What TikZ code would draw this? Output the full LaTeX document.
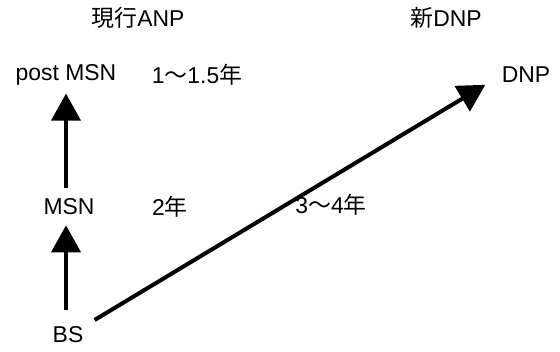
\documentclass[tikz,border=0pt]{standalone}
\usepackage{fontspec}
\setmainfont{Liberation Sans}
\newfontfamily\cjk{Noto Sans CJK JP}
\usetikzlibrary{arrows.meta}
\tikzset{
  lbl/.style={inner sep=0pt, font=\fontsize{23}{26}\selectfont},
  arr/.style={line width=4bp, -{Triangle[length=27bp,width=29bp]}}
}
\begin{document}
\begin{tikzpicture}[x=1bp,y=-1bp]
\useasboundingbox (0,0) rectangle (560,351);
\node[lbl] (anp) at (138,18) {{\cjk 現行}ANP};
\node[lbl] (newdnp) at (446,18) {{\cjk 新}DNP};
\node[lbl] (post) at (66,75) {post MSN};
\node[lbl] (y15) at (197,75) {1{\cjk 〜}1.5{\cjk 年}};
\node[lbl] (dnp) at (526,75) {DNP};
\node[lbl] (msn) at (69,207) {MSN};
\node[lbl] (y2) at (170,207) {2{\cjk 年}};
\node[lbl] (y34) at (331,205) {3{\cjk 〜}4{\cjk 年}};
\node[lbl] (bs) at (68,335) {BS};
\draw[arr, shorten <=17bp, shorten >=10bp] (bs.north -| post.south) -- (msn.south -| post.south);
\draw[arr, shorten <=11bp, shorten >=8bp] (msn.north -| post.south) -- (post.south);
\draw[arr, shorten <=13bp, shorten >=19bp] (bs.north east) -- (dnp.west);
\end{tikzpicture}
\end{document}
